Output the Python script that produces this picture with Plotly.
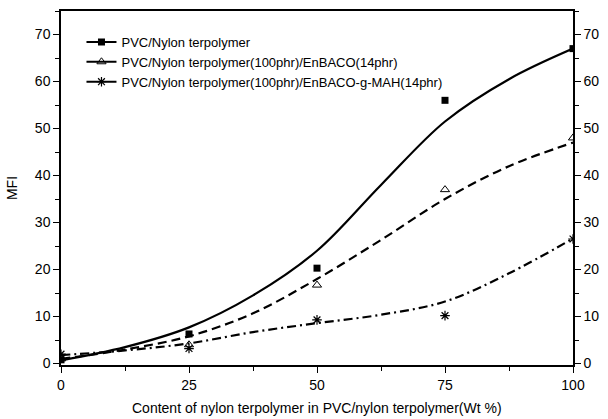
import plotly.graph_objects as go

# Measured melt flow index at each nylon terpolymer content
content = [0, 25, 50, 75, 100]
mfi_blend = [0.8, 6.3, 20.3, 56.0, 67.0]
mfi_enbaco = [1.0, 4.0, 16.7, 37.0, 48.0]
mfi_enbaco_mah = [2.0, 3.2, 9.3, 10.2, 26.5]

# Smoothed trend curves for each series
fit_x = [0, 12.5, 25, 37.5, 50, 62.5, 75, 87.5, 100]
fit_y_blend = [0.7, 3.5, 7.7, 14.5, 24.0, 38.0, 51.5, 60.5, 67.0]
fit_y_enbaco = [1.0, 3.0, 5.8, 10.7, 18.0, 26.3, 35.0, 42.0, 47.0]
fit_y_mah = [1.8, 2.8, 4.3, 6.7, 8.6, 10.4, 13.2, 19.2, 26.6]

names = [
    "PVC/Nylon terpolymer",
    "PVC/Nylon terpolymer(100phr)/EnBACO(14phr)",
    "PVC/Nylon terpolymer(100phr)/EnBACO-g-MAH(14phr)",
]
x_ticks = [0, 25, 50, 75, 100]
y_ticks = [0, 10, 20, 30, 40, 50, 60, 70]

FONT = "Liberation Sans, Arial, sans-serif"
BLACK = "#000000"

styles = [
    dict(dash="solid", symbol="square", size=7, mline=0),
    dict(dash="9px,5px", symbol="triangle-up-open", size=8, mline=1),
    dict(dash="9px,4px,2px,4px", symbol="asterisk-open", size=8, mline=1.2),
]
fits = [fit_y_blend, fit_y_enbaco, fit_y_mah]
points = [mfi_blend, mfi_enbaco, mfi_enbaco_mah]

fig = go.Figure()
for name, st, fy, py in zip(names, styles, fits, points):
    fig.add_trace(go.Scatter(
        x=fit_x, y=fy, mode="lines",
        line=dict(color=BLACK, width=2.2, dash=st["dash"], shape="spline", smoothing=1.0),
        showlegend=False, hoverinfo="skip"))
    fig.add_trace(go.Scatter(
        x=content, y=py, mode="markers",
        marker=dict(symbol=st["symbol"], size=st["size"], color=BLACK,
                    line=dict(color=BLACK, width=st["mline"])),
        showlegend=False))
    # legend entry combining the line and the marker
    fig.add_trace(go.Scatter(
        x=[None], y=[None], mode="lines+markers", name=name,
        line=dict(color=BLACK, width=2, dash="solid"),
        marker=dict(symbol=st["symbol"], size=st["size"], color=BLACK,
                    line=dict(color=BLACK, width=st["mline"]))))

# invisible trace to drive the right-hand axis
fig.add_trace(go.Scatter(x=[None], y=[None], yaxis="y2", showlegend=False))

yr = [-0.3, 75]
tick_font = dict(size=14)
fig.update_layout(
    width=608, height=419,
    margin=dict(l=61, r=31, t=9, b=54),
    paper_bgcolor="white", plot_bgcolor="white",
    font=dict(family=FONT, size=14, color=BLACK),
    xaxis=dict(
        range=[0, 100], tickvals=x_ticks, ticks="outside", ticklen=6, tickwidth=1,
        tickcolor=BLACK, showline=True, linecolor=BLACK, linewidth=1.5, mirror=True,
        showgrid=False, zeroline=False,
        minor=dict(dtick=12.5, tick0=0, ticks="outside", ticklen=4, tickcolor=BLACK, showgrid=False),
        tickfont=tick_font),
    yaxis=dict(
        range=yr, tickvals=y_ticks, ticks="outside", ticklen=6, tickwidth=1,
        tickcolor=BLACK, showline=True, linecolor=BLACK, linewidth=1.5,
        showgrid=False, zeroline=False,
        minor=dict(dtick=5, tick0=0, ticks="outside", ticklen=4, tickcolor=BLACK, showgrid=False),
        title=dict(text="MFI", font=dict(size=14), standoff=14),
        tickfont=tick_font),
    yaxis2=dict(
        range=yr, tickvals=y_ticks, overlaying="y", side="right", ticks="outside",
        ticklen=6, tickwidth=1, tickcolor=BLACK, showline=True, linecolor=BLACK,
        linewidth=1.5, showgrid=False, zeroline=False,
        minor=dict(dtick=5, tick0=0, ticks="outside", ticklen=4, tickcolor=BLACK, showgrid=False),
        tickfont=tick_font),
    legend=dict(x=0.04, y=0.955, xanchor="left", yanchor="top", bgcolor="rgba(0,0,0,0)",
                font=dict(size=13), tracegroupgap=0, itemwidth=30),
    annotations=[dict(
        text="Content of nylon terpolymer in PVC/nylon terpolymer(Wt %)",
        xref="paper", yref="paper", x=0.5, y=-0.093, xanchor="center", yanchor="top",
        showarrow=False, font=dict(size=14))],
)

fig.write_html("out.html")
